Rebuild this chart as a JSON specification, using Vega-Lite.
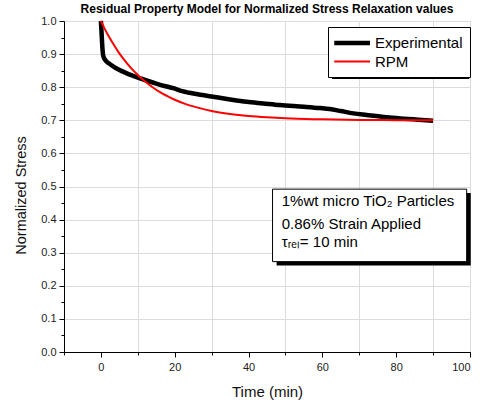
{
  "$schema": "https://vega.github.io/schema/vega-lite/v6.json",
  "width": 406,
  "height": 331,
  "autosize": {"type": "none"},
  "padding": {"left": 64, "top": 21, "right": 10, "bottom": 51},
  "background": "white",
  "config": {
    "font": "Liberation Sans",
    "view": {"stroke": null},
    "axis": {"labelFont": "Liberation Sans", "titleFont": "Liberation Sans", "labelColor": "#222", "titleColor": "#111", "domainColor": "#000", "tickColor": "#000", "gridColor": "#dcdcdc"}
  },
  "title": {"text": "Residual Property Model for Normalized Stress Relaxation values", "font": "Liberation Sans", "fontSize": 12, "fontWeight": "bold", "color": "#000", "offset": -4},
  "datasets": {
    "curves": [
      {"t": 0, "v": 1.0, "s": "Experimental"},
      {"t": 0.2, "v": 0.96, "s": "Experimental"},
      {"t": 0.4, "v": 0.92, "s": "Experimental"},
      {"t": 0.6, "v": 0.897, "s": "Experimental"},
      {"t": 1, "v": 0.885, "s": "Experimental"},
      {"t": 1.6, "v": 0.877, "s": "Experimental"},
      {"t": 2.4, "v": 0.87, "s": "Experimental"},
      {"t": 4, "v": 0.858, "s": "Experimental"},
      {"t": 6, "v": 0.847, "s": "Experimental"},
      {"t": 8, "v": 0.837, "s": "Experimental"},
      {"t": 10.6, "v": 0.827, "s": "Experimental"},
      {"t": 13, "v": 0.818, "s": "Experimental"},
      {"t": 15, "v": 0.811, "s": "Experimental"},
      {"t": 17.5, "v": 0.803, "s": "Experimental"},
      {"t": 19.6, "v": 0.797, "s": "Experimental"},
      {"t": 22, "v": 0.788, "s": "Experimental"},
      {"t": 24, "v": 0.783, "s": "Experimental"},
      {"t": 27, "v": 0.777, "s": "Experimental"},
      {"t": 30.4, "v": 0.771, "s": "Experimental"},
      {"t": 35, "v": 0.763, "s": "Experimental"},
      {"t": 39.5, "v": 0.756, "s": "Experimental"},
      {"t": 44, "v": 0.751, "s": "Experimental"},
      {"t": 48.5, "v": 0.746, "s": "Experimental"},
      {"t": 55, "v": 0.741, "s": "Experimental"},
      {"t": 59.4, "v": 0.737, "s": "Experimental"},
      {"t": 62, "v": 0.734, "s": "Experimental"},
      {"t": 65, "v": 0.728, "s": "Experimental"},
      {"t": 68.4, "v": 0.721, "s": "Experimental"},
      {"t": 72, "v": 0.716, "s": "Experimental"},
      {"t": 77.4, "v": 0.709, "s": "Experimental"},
      {"t": 82, "v": 0.705, "s": "Experimental"},
      {"t": 86, "v": 0.702, "s": "Experimental"},
      {"t": 90, "v": 0.699, "s": "Experimental"},
      {"t": 0, "v": 1.0, "s": "RPM"},
      {"t": 1, "v": 0.977, "s": "RPM"},
      {"t": 2, "v": 0.956, "s": "RPM"},
      {"t": 3, "v": 0.937, "s": "RPM"},
      {"t": 4, "v": 0.919, "s": "RPM"},
      {"t": 5, "v": 0.902, "s": "RPM"},
      {"t": 6, "v": 0.887, "s": "RPM"},
      {"t": 8, "v": 0.86, "s": "RPM"},
      {"t": 10, "v": 0.837, "s": "RPM"},
      {"t": 12, "v": 0.817, "s": "RPM"},
      {"t": 14, "v": 0.8, "s": "RPM"},
      {"t": 16, "v": 0.785, "s": "RPM"},
      {"t": 18, "v": 0.773, "s": "RPM"},
      {"t": 20, "v": 0.762, "s": "RPM"},
      {"t": 23, "v": 0.749, "s": "RPM"},
      {"t": 26, "v": 0.739, "s": "RPM"},
      {"t": 30, "v": 0.728, "s": "RPM"},
      {"t": 35, "v": 0.719, "s": "RPM"},
      {"t": 40, "v": 0.713, "s": "RPM"},
      {"t": 45, "v": 0.709, "s": "RPM"},
      {"t": 50, "v": 0.706, "s": "RPM"},
      {"t": 60, "v": 0.703, "s": "RPM"},
      {"t": 70, "v": 0.701, "s": "RPM"},
      {"t": 80, "v": 0.7005, "s": "RPM"},
      {"t": 90, "v": 0.7, "s": "RPM"}
    ]
  },
  "resolve": {"axis": {"x": "independent", "y": "independent"}},
  "layer": [
    {
      "data": {"values": [{"k": 1}]},
      "mark": {"type": "rule", "opacity": 0},
      "encoding": {
        "x": {"datum": 0, "type": "quantitative", "scale": {"domain": [-10, 100], "nice": false, "zero": false},
          "axis": {"orient": "bottom", "values": [-10, 10, 30, 50, 70, 90, 100], "labels": false, "title": null, "domain": false, "tickSize": 3, "grid": true, "gridWidth": 1}},
        "y": {"datum": 0.5, "type": "quantitative", "scale": {"domain": [0, 1], "nice": false},
          "axis": {"orient": "left", "values": [0.05, 0.15, 0.25, 0.35, 0.45, 0.55, 0.65, 0.75, 0.85, 0.95], "labels": false, "title": null, "domain": false, "tickSize": 3, "grid": false}}
      }
    },
    {
      "data": {"values": [{"k": 1}]},
      "mark": {"type": "rect", "color": "#000"},
      "encoding": {
        "x": {"datum": 62.6, "type": "quantitative", "axis": null},
        "x2": {"datum": 99.8},
        "y": {"datum": 0.976, "type": "quantitative", "axis": null},
        "y2": {"datum": 0.825}
      }
    },
    {
      "data": {"values": [{"k": 1}]},
      "mark": {"type": "rect", "color": "#000"},
      "encoding": {
        "x": {"datum": 47.6, "type": "quantitative", "axis": null},
        "x2": {"datum": 100.2},
        "y": {"datum": 0.48, "type": "quantitative", "axis": null},
        "y2": {"datum": 0.261}
      }
    },
    {
      "data": {"values": [{"k": 1}]},
      "mark": {"type": "rect", "fill": "white", "stroke": "#000", "strokeWidth": 1},
      "encoding": {
        "x": {"datum": 46.5, "type": "quantitative", "axis": null},
        "x2": {"datum": 99.1},
        "y": {"datum": 0.492, "type": "quantitative", "axis": null},
        "y2": {"datum": 0.273}
      }
    },
    {
      "data": {"name": "curves"},
      "mark": {"type": "line", "interpolate": "monotone"},
      "encoding": {
        "x": {"field": "t", "type": "quantitative",
          "axis": {"orient": "bottom", "values": [0, 20, 40, 60, 80, 100], "title": "Time (min)", "titleFontSize": 15, "titleFontWeight": "normal", "titlePadding": 12, "labelFontSize": 11, "labelPadding": 4, "tickSize": 5, "grid": false, "domainWidth": 1}},
        "y": {"field": "v", "type": "quantitative",
          "axis": {"orient": "left", "values": [0, 0.1, 0.2, 0.3, 0.4, 0.5, 0.6, 0.7, 0.8, 0.9, 1.0], "format": ".1f", "title": "Normalized Stress", "titleFontSize": 14.5, "titleFontWeight": "normal", "titlePadding": 12, "titleY": 174, "labelFontSize": 11, "labelPadding": 3, "tickSize": 5, "grid": true}},
        "color": {"field": "s", "type": "nominal", "scale": {"domain": ["Experimental", "RPM"], "range": ["#000000", "#ff0000"]},
          "legend": {"title": null, "orient": "none", "legendX": 264, "legendY": 6, "symbolType": "M-1.5,0L4,0", "symbolSize": 169, "labelFontSize": 15, "labelFont": "Liberation Sans", "labelColor": "#000", "labelOffset": 22, "padding": 7, "rowPadding": 2, "strokeColor": "#000", "fillColor": "white"}},
        "strokeWidth": {"field": "s", "type": "nominal", "scale": {"domain": ["Experimental", "RPM"], "range": [4.5, 2]}, "legend": null},
        "order": {"field": "t", "type": "quantitative"}
      }
    },
    {
      "data": {"values": [
        {"line": "1%wt micro TiO₂ Particles", "yy": 0.442},
        {"line": "0.86% Strain Applied", "yy": 0.372},
        {"line": "τᵣₑₗ= 10 min", "yy": 0.317}
      ]},
      "mark": {"type": "text", "align": "left", "baseline": "alphabetic", "fontSize": 15, "font": "Liberation Sans", "color": "#000"},
      "encoding": {
        "x": {"datum": 49, "type": "quantitative", "axis": null},
        "y": {"field": "yy", "type": "quantitative", "axis": null},
        "text": {"field": "line"}
      }
    }
  ]
}
